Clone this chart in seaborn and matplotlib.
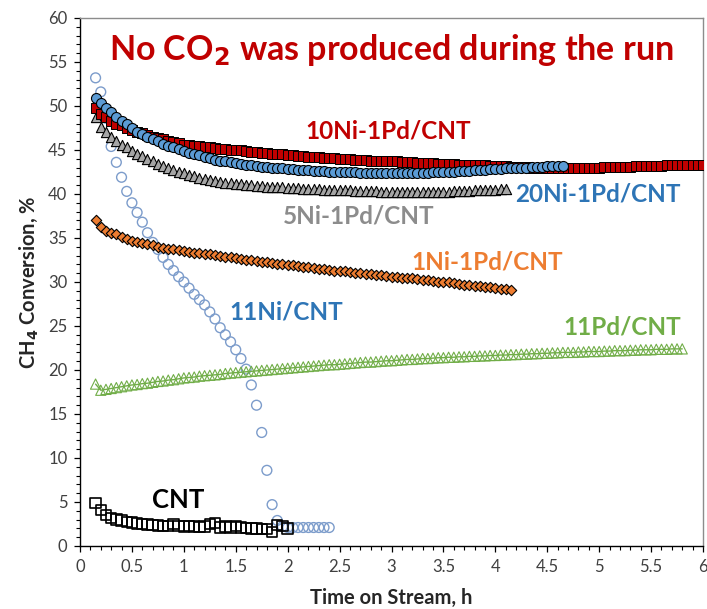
import numpy as np
import pandas as pd
import matplotlib
matplotlib.use("Agg")
import matplotlib.pyplot as plt
from matplotlib.ticker import MultipleLocator
import seaborn as sns

# ---------------- data ----------------
t_step = 0.05

y_11Ni = [53.2, 51.6, 48.6, 45.4, 43.6, 41.9, 40.3, 39.0, 37.9, 36.8,
          35.6, 34.5, 33.7, 32.8, 32.0, 31.3, 30.6, 30.0, 29.3, 28.6,
          28.0, 27.4, 26.6, 25.8, 24.8, 24.0, 23.2, 22.3, 21.3, 20.1,
          18.3, 16.0, 12.9, 8.6, 4.7, 2.9, 2.2, 2.1, 2.1, 2.1,
          2.1, 2.1, 2.1, 2.1, 2.1, 2.1]

y_20Ni1Pd = [50.9, 50.3, 49.8, 49.3, 48.8, 48.3, 47.9, 47.5, 47.1, 46.8,
             46.5, 46.2, 46.0, 45.7, 45.5, 45.3, 45.1, 44.9, 44.7, 44.5,
             44.4, 44.2, 44.05, 43.9, 43.8, 43.7, 43.6, 43.5, 43.4, 43.3,
             43.25, 43.2, 43.1, 43.05, 43.0, 42.95, 42.9, 42.85, 42.8, 42.75,
             42.7, 42.7, 42.65, 42.6, 42.6, 42.55, 42.55, 42.5, 42.5, 42.45,
             42.45, 42.4, 42.4, 42.4, 42.35, 42.35, 42.35, 42.35, 42.35, 42.35,
             42.35, 42.35, 42.4, 42.4, 42.4, 42.45, 42.45, 42.5, 42.5, 42.55,
             42.6, 42.6, 42.65, 42.7, 42.7, 42.75, 42.8, 42.8, 42.85, 42.9,
             42.9, 42.95, 43.0, 43.0, 43.05, 43.1, 43.1, 43.15, 43.15, 43.2,
             43.2]

y_10Ni1Pd = [49.8, 49.1, 48.7, 48.3, 48.0, 47.8, 47.5, 47.3, 47.1, 46.9,
             46.7, 46.5, 46.4, 46.2, 46.0, 45.9, 45.8, 45.6, 45.55, 45.5,
             45.4, 45.35, 45.3, 45.2, 45.15, 45.1, 45.05, 45.0, 44.95, 44.9,
             44.8, 44.75, 44.7, 44.65, 44.6, 44.55, 44.5, 44.45, 44.4, 44.35,
             44.3, 44.25, 44.2, 44.15, 44.1, 44.1, 44.05, 44.0, 44.0, 43.95,
             43.9, 43.9, 43.85, 43.8, 43.8, 43.75, 43.75, 43.7, 43.7, 43.65,
             43.6, 43.6, 43.55, 43.55, 43.5, 43.5, 43.45, 43.45, 43.4, 43.4,
             43.35, 43.35, 43.3, 43.3, 43.25, 43.25, 43.2, 43.2, 43.15, 43.15,
             43.1, 43.1, 43.05, 43.05, 43.0, 43.0, 43.0, 43.0, 43.0, 43.0,
             43.0, 43.0, 43.0, 43.0, 43.0, 43.0, 43.0, 43.0, 43.05, 43.05,
             43.05, 43.1, 43.1, 43.1, 43.15, 43.15, 43.15, 43.2, 43.2, 43.2,
             43.25, 43.25, 43.25, 43.3, 43.3, 43.3, 43.3, 43.35]

y_5Ni1Pd = [48.8, 47.6, 47.0, 46.5, 46.0, 45.6, 45.3, 44.9, 44.6, 44.3,
            44.0, 43.7, 43.4, 43.2, 42.95, 42.7, 42.5, 42.35, 42.2, 42.0,
            41.85, 41.7, 41.6, 41.5, 41.4, 41.3, 41.2, 41.15, 41.1, 41.05,
            41.0, 40.95, 40.9, 40.85, 40.8, 40.8, 40.75, 40.7, 40.7, 40.65,
            40.6, 40.6, 40.55, 40.55, 40.5, 40.5, 40.45, 40.45, 40.4, 40.4,
            40.35, 40.35, 40.3, 40.3, 40.3, 40.25, 40.25, 40.25, 40.2, 40.2,
            40.2, 40.2, 40.2, 40.2, 40.2, 40.2, 40.2, 40.25, 40.25, 40.3,
            40.3, 40.35, 40.35, 40.4, 40.4, 40.45, 40.5, 40.5, 40.55, 40.6]

y_1Ni1Pd = [37.1, 36.3, 35.8, 35.6, 35.4, 35.1, 34.9, 34.7, 34.55, 34.45,
            34.3, 34.15, 34.0, 33.9, 33.8, 33.7, 33.6, 33.5, 33.45, 33.35,
            33.3, 33.2, 33.15, 33.1, 33.0, 32.85, 32.8, 32.7, 32.6, 32.55,
            32.5, 32.4, 32.3, 32.25, 32.2, 32.1, 32.05, 31.95, 31.9, 31.8,
            31.75, 31.65, 31.6, 31.5, 31.45, 31.4, 31.3, 31.25, 31.2, 31.1,
            31.05, 31.0, 30.95, 30.9, 30.8, 30.75, 30.7, 30.6, 30.55, 30.5,
            30.45, 30.4, 30.3, 30.25, 30.2, 30.1, 30.05, 30.0, 29.95, 29.85,
            29.8, 29.7, 29.65, 29.6, 29.5, 29.45, 29.4, 29.3, 29.25, 29.2,
            29.1]

y_11Pd = [18.4, 17.7, 17.8, 17.9, 18.0, 18.1, 18.2, 18.3, 18.35, 18.45,
          18.5, 18.6, 18.7, 18.75, 18.85, 18.9, 19.0, 19.1, 19.15, 19.2,
          19.3, 19.35, 19.4, 19.45, 19.5, 19.6, 19.65, 19.7, 19.75, 19.8,
          19.85, 19.9, 19.95, 20.0, 20.05, 20.1, 20.15, 20.2, 20.25, 20.3,
          20.35, 20.4, 20.45, 20.5, 20.55, 20.6, 20.6, 20.65, 20.7, 20.75,
          20.8, 20.85, 20.9, 20.9, 20.95, 21.0, 21.05, 21.05, 21.1, 21.15,
          21.2, 21.2, 21.25, 21.3, 21.3, 21.35, 21.4, 21.4, 21.45, 21.45,
          21.5, 21.5, 21.55, 21.55, 21.6, 21.6, 21.65, 21.65, 21.7, 21.7,
          21.75, 21.75, 21.8, 21.8, 21.85, 21.85, 21.9, 21.9, 21.95, 21.95,
          22.0, 22.0, 22.0, 22.05, 22.05, 22.1, 22.1, 22.1, 22.15, 22.15,
          22.2, 22.2, 22.2, 22.25, 22.25, 22.3, 22.3, 22.3, 22.35, 22.35,
          22.35, 22.4, 22.4, 22.4]

y_CNT = [4.9, 4.1, 3.5, 3.2, 3.0, 2.9, 2.75, 2.65, 2.55, 2.5,
         2.45, 2.4, 2.35, 2.3, 2.3, 2.5, 2.25, 2.2, 2.3, 2.2,
         2.15, 2.2, 2.5, 2.6, 2.1, 2.2, 2.1, 2.3, 2.1, 2.05,
         2.0, 2.0, 1.95, 1.9, 1.6, 2.4, 2.3, 2.0]

t0 = 0.15


def times(vals):
    return np.round(t0 + t_step * np.arange(len(vals)), 3)


x_ticks = [0, 0.5, 1, 1.5, 2, 2.5, 3, 3.5, 4, 4.5, 5, 5.5, 6]
x_tick_labels = ["0", "0.5", "1", "1.5", "2", "2.5", "3", "3.5", "4", "4.5", "5", "5.5", "6"]
y_ticks = [0, 5, 10, 15, 20, 25, 30, 35, 40, 45, 50, 55, 60]

# ---------------- figure ----------------
sns.set_theme(style="ticks")
plt.rcParams["font.family"] = ["Lato", "DejaVu Sans"]

fig = plt.figure(figsize=(7.07, 6.09), dpi=100)
ax = fig.add_axes([80 / 707, 63 / 609, 623 / 707, 528 / 609])

# 11Ni/CNT open circles (bottom)
sns.scatterplot(x=times(y_11Ni), y=y_11Ni, ax=ax, marker="o", s=50,
                facecolor="none", edgecolor="#7C9CCB", linewidth=1.0, zorder=2)
# CNT open squares
sns.scatterplot(x=times(y_CNT), y=y_CNT, ax=ax, marker="s", s=56,
                facecolor="none", edgecolor="black", linewidth=1.2, zorder=3)
# 11Pd/CNT open triangles with line
sns.lineplot(x=times(y_11Pd), y=y_11Pd, ax=ax, color="#70AD47", linewidth=1.0, zorder=3)
sns.scatterplot(x=times(y_11Pd), y=y_11Pd, ax=ax, marker="^", s=54,
                facecolor="none", edgecolor="#70AD47", linewidth=0.8, zorder=3)
# 1Ni-1Pd/CNT diamonds
sns.scatterplot(x=times(y_1Ni1Pd), y=y_1Ni1Pd, ax=ax, marker="D", s=28,
                color="#ED7D31", edgecolor="black", linewidth=0.8, zorder=4)
# 5Ni-1Pd/CNT triangles
sns.scatterplot(x=times(y_5Ni1Pd), y=y_5Ni1Pd, ax=ax, marker="^", s=54,
                color="#A5A5A5", edgecolor="black", linewidth=0.8, zorder=5)
# 10Ni-1Pd/CNT squares
sns.scatterplot(x=times(y_10Ni1Pd), y=y_10Ni1Pd, ax=ax, marker="s", s=48,
                color="#C00000", edgecolor="black", linewidth=0.7, zorder=6)
# 20Ni-1Pd/CNT circles
sns.scatterplot(x=times(y_20Ni1Pd), y=y_20Ni1Pd, ax=ax, marker="o", s=52,
                color="#5B9BD5", edgecolor="black", linewidth=0.8, zorder=7)

ax.set_xlim(0, 6)
ax.set_ylim(0, 60)
ax.set_xticks(x_ticks)
ax.set_xticklabels(x_tick_labels)
ax.set_yticks(y_ticks)
ax.xaxis.set_minor_locator(MultipleLocator(0.1))
ax.yaxis.set_minor_locator(MultipleLocator(1))
ax.tick_params(axis="both", which="major", direction="out", length=4, width=0.9,
               color="black", labelsize=12, labelcolor="#404040", pad=5)
ax.tick_params(axis="both", which="minor", direction="out", length=3, width=0.8, color="black")

for s in ["left", "bottom"]:
    ax.spines[s].set_color("black")
    ax.spines[s].set_linewidth(1.0)
for s in ["top", "right"]:
    ax.spines[s].set_visible(True)
    ax.spines[s].set_color("#8C8C8C")
    ax.spines[s].set_linewidth(1.0)

ax.set_xlabel("Time on Stream, h", fontsize=14.5, fontweight="bold", labelpad=10)
ax.set_ylabel("CH$_\\mathbf{4}$ Conversion, %", fontsize=14.5, fontweight="bold", labelpad=6)

ax.text(3.0, 56.4, "No CO$_\\mathbf{2}$ was produced during the run", ha="center", va="center",
        fontsize=24.5, fontweight="bold", color="#C00000")

lab = dict(fontsize=17.5, fontweight="bold", ha="center", va="center")
ax.text(2.97, 47.2, "10Ni-1Pd/CNT", color="#C00000", **lab)
ax.text(4.99, 40.0, "20Ni-1Pd/CNT", color="#2E75B6", **lab)
ax.text(2.68, 37.5, "5Ni-1Pd/CNT", color="#8C8C8C", **lab)
ax.text(3.92, 32.3, "1Ni-1Pd/CNT", color="#ED7D31", **lab)
ax.text(1.99, 26.6, "11Ni/CNT", color="#2E75B6", **lab)
ax.text(5.22, 24.9, "11Pd/CNT", color="#70AD47", **lab)
ax.text(0.95, 5.2, "CNT", color="black", fontsize=18.5, fontweight="bold", ha="center", va="center")

fig.savefig("out.png", dpi=100)
